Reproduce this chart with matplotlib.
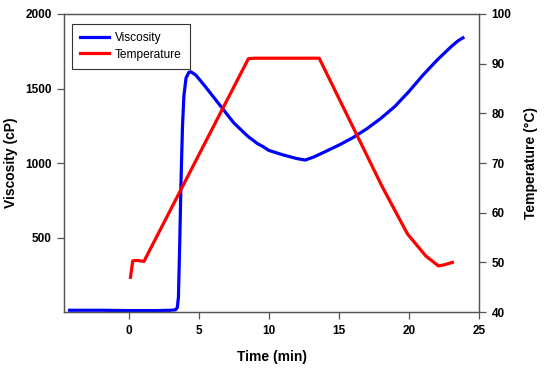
import matplotlib
matplotlib.use("Agg")
import matplotlib.pyplot as plt

# viscosity curve (time in min, cP)
visc_t = [-4.2, -2.0, 0.0, 2.0, 3.0, 3.35, 3.48, 3.56, 3.65, 3.75, 3.85, 3.95, 4.1, 4.3, 4.45,
          4.8, 5.5, 6.5, 7.5, 8.5, 9.2, 9.6, 10.0, 11.0, 12.0, 12.6, 13.2, 14.0, 15.0,
          16.0, 17.0, 18.0, 19.0, 20.0, 21.0, 22.0, 23.0, 23.5, 23.85]
visc_v = [12, 12, 10, 10, 12, 15, 30, 100, 450, 900, 1250, 1450, 1570, 1608, 1612,
          1590, 1510, 1390, 1270, 1180, 1130, 1110, 1085, 1055, 1030, 1020, 1040, 1075, 1120,
          1170, 1230, 1300, 1380, 1480, 1590, 1690, 1780, 1820, 1840]

# temperature curve (time in min, deg C)
temp_t = [0.14, 0.3, 0.6, 1.1, 8.55, 9.0, 13.6, 18.1, 19.9, 21.2, 22.1, 22.5, 23.1]
temp_v = [47.0, 50.3, 50.4, 50.2, 91.0, 91.1, 91.1, 65.2, 55.7, 51.3, 49.3, 49.5, 50.0]

plt.rcParams['font.family'] = ['Liberation Sans', 'DejaVu Sans']

fig = plt.figure(figsize=(5.5, 3.68), dpi=100)
ax = fig.add_axes([0.1164, 0.152, 0.7546, 0.81])
ax2 = ax.twinx()

l1, = ax.plot(visc_t, visc_v, color='#0000ff', linewidth=2.3, label='Viscosity')
l2, = ax2.plot(temp_t, temp_v, color='#ff0000', linewidth=2.3, label='Temperature')

ax.set_xlim(-4.6, 25)
ax.set_ylim(0, 2000)
ax2.set_ylim(40, 100)
ax.set_xticks([0, 5, 10, 15, 20, 25])
ax.set_yticks([500, 1000, 1500, 2000])
ax2.set_yticks([40, 50, 60, 70, 80, 90, 100])

for a in (ax, ax2):
    for s in a.spines.values():
        s.set_color('#555555')
        s.set_linewidth(0.9)
    a.tick_params(direction='out', length=5, width=0.9, color='#555555', labelsize=8.5, pad=4)
    for lab in a.get_xticklabels() + a.get_yticklabels():
        lab.set_fontweight('bold')

ax.set_xlabel('Time (min)', fontsize=10, fontweight='bold', labelpad=10)
ax.set_ylabel('Viscosity (cP)', fontsize=10, fontweight='bold', labelpad=5)
ax2.set_ylabel('Temperature (\u00b0C)', fontsize=10, fontweight='bold', labelpad=9)

leg = ax2.legend(handles=[l1, l2], loc='upper left', fontsize=8.6, fancybox=False,
                 framealpha=1, edgecolor='#333333', handlelength=2.4, handletextpad=0.5,
                 borderpad=0.7, labelspacing=0.35, borderaxespad=0,
                 bbox_to_anchor=(0.019, 0.966))
leg.get_frame().set_linewidth(0.8)

fig.savefig('out.png', dpi=100)
